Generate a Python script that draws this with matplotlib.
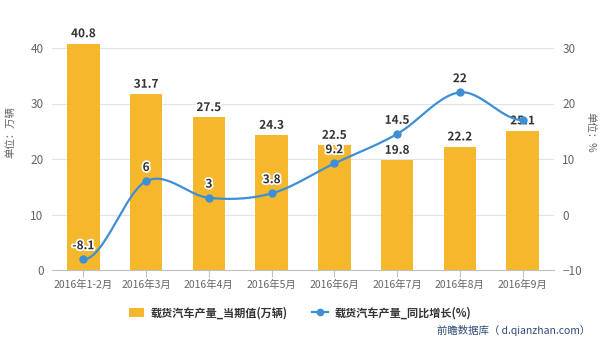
import numpy as np
import matplotlib
matplotlib.use("Agg")
import matplotlib.pyplot as plt
import matplotlib.patheffects as pe
from matplotlib.lines import Line2D
from matplotlib.patches import Patch

plt.rcParams['font.family'] = ['Noto Sans CJK SC', 'DejaVu Sans']

categories = ["2016年1-2月", "2016年3月", "2016年4月", "2016年5月",
              "2016年6月", "2016年7月", "2016年8月", "2016年9月"]
output = [40.8, 31.7, 27.5, 24.3, 22.5, 19.8, 22.2, 25.1]
growth = [-8.1, 6, 3, 3.8, 9.2, 14.5, 22, 17.0]
growth_labels = ["-8.1", "6", "3", "3.8", "9.2", "14.5", "22", None]

bar_color = "#F5B82C"
line_color = "#3D8FD6"
text_dark = "#333333"
tick_gray = "#666666"


def smooth_curve(x, y, n=30):
    """Catmull-Rom style spline through the points for a smooth line."""
    x = np.asarray(x, float)
    y = np.asarray(y, float)
    xs, ys = [], []
    m = np.zeros_like(y)
    for i in range(len(y)):
        if 0 < i < len(y) - 1:
            m[i] = (y[i + 1] - y[i - 1]) / (x[i + 1] - x[i - 1])
        else:
            m[i] = 0.0
    for i in range(len(x) - 1):
        t = np.linspace(0, 1, n)
        h = x[i + 1] - x[i]
        h00 = 2 * t**3 - 3 * t**2 + 1
        h10 = t**3 - 2 * t**2 + t
        h01 = -2 * t**3 + 3 * t**2
        h11 = t**3 - t**2
        xs.append(x[i] + t * h)
        ys.append(h00 * y[i] + h10 * h * m[i] + h01 * y[i + 1] + h11 * h * m[i + 1])
    return np.concatenate(xs), np.concatenate(ys)


fig = plt.figure(figsize=(6.0, 3.39), dpi=100)
ax = fig.add_axes([52 / 600, 1 - 270 / 339, 502 / 600, (270 - 36) / 339])
ax2 = ax.twinx()

x = np.arange(len(categories))
ax.bar(x, output, width=0.52, color=bar_color, zorder=2)
for xi, v in zip(x, output):
    ax.text(xi, v + 0.6, f"{v}", ha="center", va="bottom", fontsize=8.5,
            fontweight="bold", color=text_dark, zorder=5,
            path_effects=[pe.withStroke(linewidth=2.5, foreground="white")])

top_left = 40 + 40 * (48 - 36) / (270 - 48)
ax.set_ylim(0, top_left)
ax.set_xlim(-0.5, len(categories) - 0.5)
ax.set_yticks([0, 10, 20, 30, 40])
ax2.set_ylim(-10, -10 + top_left)
ax2.set_yticks([-10, 0, 10, 20, 30])

sx, sy = smooth_curve(x, growth)
ax2.plot(sx, sy, color=line_color, lw=1.6, zorder=3)
ax2.plot(x, growth, "o", color=line_color, ms=5, zorder=4)
for xi, v, lab in zip(x, growth, growth_labels):
    if lab is None:
        continue
    ax2.text(xi, v + 1.3, lab, ha="center", va="bottom", fontsize=8.5,
             fontweight="bold", color=text_dark, zorder=6,
             path_effects=[pe.withStroke(linewidth=2.5, foreground="white")])

ax.set_zorder(ax2.get_zorder() - 1)
ax2.patch.set_visible(False)

for a in (ax, ax2):
    for s in a.spines.values():
        s.set_visible(False)
ax.spines["bottom"].set_visible(True)
ax.spines["bottom"].set_color("#C0C0C0")
ax.grid(axis="y", color="#E3E3E3", lw=0.8, zorder=0)
ax.set_axisbelow(True)

ax.set_xticks(x)
ax.set_xticklabels(categories, fontsize=7.5, color=tick_gray)
ax.tick_params(axis="x", length=5, color="#C0C0C0", pad=2)
ax.tick_params(axis="y", length=0, labelsize=8.5, labelcolor=tick_gray, pad=6)
ax2.tick_params(axis="y", length=0, labelsize=8.5, labelcolor=tick_gray, pad=6)

fig.text(10 / 600, 1 - 132 / 339, "单位：万辆", rotation=90, ha="center",
         va="center", fontsize=7.5, color=tick_gray)
fig.text(590 / 600, 1 - 132 / 339, "单位：%", rotation=-90, ha="center",
         va="center", fontsize=7.5, color=tick_gray)

handles = [
    Patch(facecolor=bar_color, edgecolor="none"),
    Line2D([0], [0], color=line_color, lw=1.6, marker="o", ms=4.5),
]
fig.legend(handles, ["载货汽车产量_当期值(万辆)", "载货汽车产量_同比增长(%)"],
           loc="center", bbox_to_anchor=(300 / 600, 1 - 313 / 339), ncol=2,
           frameon=False, prop={"size": 8, "weight": "bold"},
           handlelength=1.4, handleheight=0.9, columnspacing=2.2,
           handletextpad=0.6, labelcolor=text_dark)

fig.text(590 / 600, 1 - 330 / 339, "前瞻数据库（ d.qianzhan.com）", ha="right",
         va="center", fontsize=7.5, color="#2F4A7A")

fig.savefig("out.png", dpi=100, facecolor="white")
